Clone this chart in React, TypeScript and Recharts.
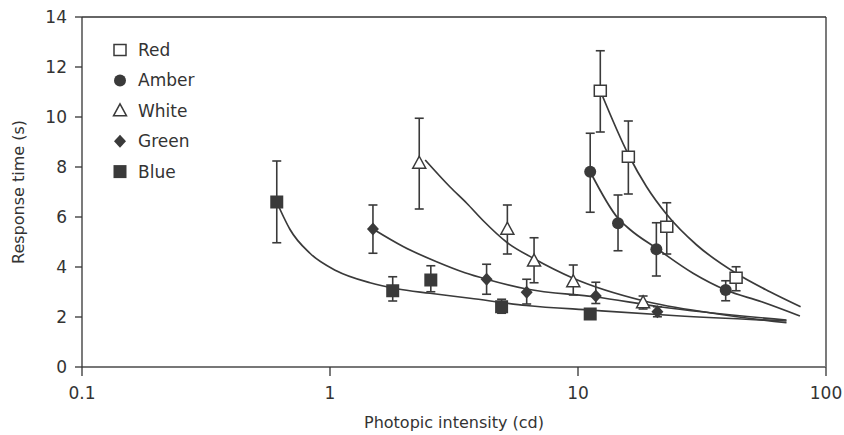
import React from 'react';
import { ComposedChart, Line, Scatter, ErrorBar, XAxis, YAxis, ReferenceLine } from 'recharts';

// measured points: x = intensity (cd), y = response time (s), err = [below, above]
const redPoints = [
  { x: 12.3, y: 11.05, err: [1.65, 1.6] },
  { x: 15.96, y: 8.41, err: [1.49, 1.43] },
  { x: 22.8, y: 5.61, err: [1.09, 0.96] },
  { x: 43.4, y: 3.57, err: [0.52, 0.44] },
];
const amberPoints = [
  { x: 11.2, y: 7.81, err: [1.62, 1.54] },
  { x: 14.5, y: 5.75, err: [1.1, 1.13] },
  { x: 20.7, y: 4.71, err: [1.07, 1.06] },
  { x: 39.4, y: 3.08, err: [0.43, 0.37] },
];
const whitePoints = [
  { x: 2.29, y: 8.15, err: [1.83, 1.8] },
  { x: 5.19, y: 5.51, err: [0.99, 0.97] },
  { x: 6.65, y: 4.24, err: [0.87, 0.93] },
  { x: 9.57, y: 3.41, err: [0.53, 0.67] },
  { x: 18.3, y: 2.57, err: [0.25, 0.27] },
];
const greenPoints = [
  { x: 1.49, y: 5.52, err: [0.97, 0.96] },
  { x: 4.28, y: 3.51, err: [0.6, 0.6] },
  { x: 6.21, y: 2.99, err: [0.47, 0.52] },
  { x: 11.8, y: 2.84, err: [0.3, 0.55] },
  { x: 20.9, y: 2.21, err: [0.2, 0.2] },
];
const bluePoints = [
  { x: 0.61, y: 6.6, err: [1.63, 1.64] },
  { x: 1.79, y: 3.05, err: [0.41, 0.56] },
  { x: 2.55, y: 3.48, err: [0.47, 0.57] },
  { x: 4.92, y: 2.41, err: [0.26, 0.3] },
  { x: 11.2, y: 2.12, err: [0.12, 0.1] },
];

// fitted curves
const redCurve = [
  { x: 12.3, y: 11.05 }, { x: 15.96, y: 8.5 }, { x: 18.9, y: 7.21 }, { x: 22.8, y: 6.1 },
  { x: 30.1, y: 4.88 }, { x: 43.4, y: 3.75 }, { x: 59.4, y: 3.01 }, { x: 79, y: 2.41 },
];
const amberCurve = [
  { x: 11.2, y: 7.81 }, { x: 14.5, y: 5.95 }, { x: 16.2, y: 5.5 }, { x: 20.7, y: 4.75 },
  { x: 29.1, y: 3.75 }, { x: 39.4, y: 3.08 }, { x: 55, y: 2.61 }, { x: 78.5, y: 2.04 },
];
const whiteCurve = [
  { x: 2.42, y: 8.28 }, { x: 3.05, y: 7.2 }, { x: 3.56, y: 6.55 }, { x: 4.15, y: 5.85 },
  { x: 5.19, y: 4.97 }, { x: 6.6, y: 4.35 }, { x: 9.57, y: 3.55 }, { x: 18.3, y: 2.65 },
  { x: 35, y: 2.15 }, { x: 69.3, y: 1.77 },
];
const greenCurve = [
  { x: 1.49, y: 5.52 }, { x: 1.98, y: 4.81 }, { x: 2.69, y: 4.21 }, { x: 3.5, y: 3.77 },
  { x: 4.28, y: 3.51 }, { x: 6.2, y: 3.12 }, { x: 11.8, y: 2.8 }, { x: 21.3, y: 2.41 },
  { x: 69.3, y: 1.88 },
];
const blueCurve = [
  { x: 0.61, y: 6.6 }, { x: 0.65, y: 6.0 }, { x: 0.69, y: 5.5 }, { x: 0.83, y: 4.55 },
  { x: 1.06, y: 3.85 }, { x: 1.45, y: 3.37 }, { x: 1.86, y: 3.13 }, { x: 2.53, y: 2.95 },
  { x: 3.67, y: 2.75 }, { x: 6.18, y: 2.46 }, { x: 11.5, y: 2.27 }, { x: 25, y: 2.05 },
  { x: 69.3, y: 1.84 },
];

const xTicks = [0.1, 1, 10, 100];
const yTicks = [0, 2, 4, 6, 8, 10, 12, 14];
const legendNames = ['Red', 'Amber', 'White', 'Green', 'Blue'];

const INK = '#3a3a3a';
const FONT = '"DejaVu Sans", "Liberation Sans", Arial, sans-serif';

const OpenSquare = ({ cx, cy }: any) => (
  <rect x={cx - 6} y={cy - 5.5} width={12} height={11} fill="#fff" stroke={INK} strokeWidth={1.5} />
);
const Dot = ({ cx, cy }: any) => <circle cx={cx} cy={cy} r={6} fill={INK} />;
const OpenTriangle = ({ cx, cy }: any) => (
  <path d={`M${cx},${cy - 7} L${cx + 6.5},${cy + 5} L${cx - 6.5},${cy + 5} Z`} fill="#fff" stroke={INK} strokeWidth={1.5} />
);
const Diamond = ({ cx, cy }: any) => (
  <path d={`M${cx},${cy - 6.5} L${cx + 6},${cy} L${cx},${cy + 6.5} L${cx - 6},${cy} Z`} fill={INK} />
);
const FilledSquare = ({ cx, cy }: any) => (
  <rect x={cx - 6.5} y={cy - 6.5} width={13} height={13} fill={INK} />
);

const shapes = [OpenSquare, Dot, OpenTriangle, Diamond, FilledSquare];

const series = [
  { name: 'Red', points: redPoints, curve: redCurve },
  { name: 'Amber', points: amberPoints, curve: amberCurve },
  { name: 'White', points: whitePoints, curve: whiteCurve },
  { name: 'Green', points: greenPoints, curve: greenCurve },
  { name: 'Blue', points: bluePoints, curve: blueCurve },
];

// legend sits inside the plot, top-left
const KeyBox = () => (
  <svg width={110} height={160} style={{ position: 'absolute', left: 110, top: 38 }}>
    {legendNames.map((name, i) => {
      const Shape = shapes[i];
      const cy = 12 + i * 30.4;
      return (
        <g key={name}>
          <Shape cx={10} cy={cy} />
          <text x={28} y={cy} dominantBaseline="central" fontSize={17} fontFamily={FONT} fill="#333">
            {name}
          </text>
        </g>
      );
    })}
  </svg>
);

export default function App() {
  return (
    <div style={{ position: 'relative', width: 844, height: 435 }}>
      <style>{'body{margin:0;background:#fff}'}</style>
      <ComposedChart width={844} height={435} margin={{ top: 17, right: 18, bottom: 0, left: 0 }}>
        <XAxis
          dataKey="x"
          type="number"
          scale="log"
          domain={[0.1, 100]}
          allowDataOverflow
          ticks={xTicks}
          tickFormatter={(v: number) => String(v)}
          height={68}
          tickSize={9}
          tickMargin={11}
          stroke="#777"
          strokeWidth={2}
          tickLine={{ stroke: '#333', strokeWidth: 1.3 }}
          tick={{ fontSize: 17, fill: '#333', fontFamily: FONT }}
          label={{ value: 'Photopic intensity (cd)', position: 'insideBottom', offset: 7, fontSize: 16, fill: '#333', fontFamily: FONT }}
        />
        <YAxis
          dataKey="y"
          type="number"
          domain={[0, 14]}
          allowDataOverflow
          ticks={yTicks}
          width={82}
          tickSize={7}
          tickMargin={8}
          stroke="#333"
          strokeWidth={1.3}
          tick={{ fontSize: 17, fill: '#333', fontFamily: FONT }}
          label={{ value: 'Response time (s)', angle: -90, position: 'insideLeft', offset: 18, fontSize: 16, fill: '#333', fontFamily: FONT, style: { textAnchor: 'middle' } }}
        />
        <ReferenceLine y={14} stroke="#333" strokeWidth={1.3} />
        <ReferenceLine x={100} stroke="#333" strokeWidth={1.3} />
        {series.map((s) => (
          <Line
            key={`${s.name}-fit`}
            data={s.curve}
            dataKey="y"
            type="monotone"
            stroke={INK}
            strokeWidth={1.7}
            dot={false}
            activeDot={false}
            legendType="none"
            isAnimationActive={false}
          />
        ))}
        {series.map((s, i) => (
          <Scatter
            key={s.name}
            name={s.name}
            data={s.points}
            dataKey="y"
            shape={shapes[i]}
            isAnimationActive={false}
          >
            <ErrorBar dataKey="err" direction="y" width={4.5} stroke={INK} strokeWidth={1.6} isAnimationActive={false} />
          </Scatter>
        ))}
      </ComposedChart>
      <KeyBox />
    </div>
  );
}
